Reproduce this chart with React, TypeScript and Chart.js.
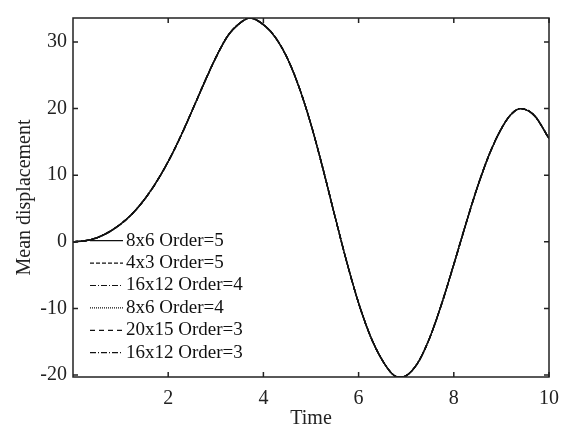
import React, { useEffect, useRef } from 'react';
import { Chart, registerables } from 'chart.js';

Chart.register(...registerables);

const times = [0, 0.25, 0.5, 0.75, 1, 1.25, 1.5, 1.75, 2, 2.25, 2.5, 2.75, 3, 3.25, 3.5, 3.72, 4, 4.25, 4.5, 4.75, 5, 5.25, 5.5, 5.75, 6, 6.25, 6.5, 6.75, 6.87, 7, 7.25, 7.5, 7.75, 8, 8.25, 8.5, 8.75, 9, 9.2, 9.4, 9.7, 10];
const displacement = [0, 0.15, 0.6, 1.45, 2.65, 4.25, 6.35, 8.95, 12.05, 15.65, 19.65, 23.75, 27.65, 30.9, 32.8, 33.6, 32.6, 30.7, 27.6, 23.2, 17.6, 11.0, 3.9, -3.0, -9.2, -14.2, -17.8, -20.1, -20.3, -20.1, -18.1, -14.3, -9.2, -3.4, 2.6, 8.3, 13.2, 17.0, 19.1, 20.0, 18.9, 15.5];

const seriesNames = ['8x6 Order=5', '4x3 Order=5', '16x12 Order=4', '8x6 Order=4', '20x15 Order=3', '16x12 Order=3'];
const seriesDashes: number[][] = [[], [4, 2], [6, 2, 1, 2], [1, 1], [5, 4], [6, 2, 1, 2]];

const xTicks = [2, 4, 6, 8, 10];
const yTicks = [-20, -10, 0, 10, 20, 30];

const FONT = '"Liberation Serif", "Times New Roman", serif';

const framePlugin = {
  id: 'matlabFrame',
  afterDraw(chart: any) {
    const { ctx, chartArea } = chart;
    const { left, right, top, bottom } = chartArea;
    const xs = chart.scales.x;
    const ys = chart.scales.y;
    ctx.save();
    ctx.strokeStyle = '#222';
    ctx.lineWidth = 1.5;
    ctx.setLineDash([]);
    ctx.strokeRect(left, top, right - left, bottom - top);
    const tl = 5;
    ctx.beginPath();
    xTicks.forEach((v) => {
      const px = xs.getPixelForValue(v);
      ctx.moveTo(px, bottom);
      ctx.lineTo(px, bottom - tl);
      ctx.moveTo(px, top);
      ctx.lineTo(px, top + tl);
    });
    yTicks.forEach((v) => {
      const py = ys.getPixelForValue(v);
      ctx.moveTo(left, py);
      ctx.lineTo(left + tl, py);
      ctx.moveTo(right, py);
      ctx.lineTo(right - tl, py);
    });
    ctx.stroke();

    // legend inside axes, lower left
    const x0 = left + 17;
    const lineLen = 33;
    const y0 = bottom - 136.3;
    const dy = 22.4;
    ctx.font = `19px ${FONT}`;
    ctx.textBaseline = 'middle';
    ctx.textAlign = 'left';
    ctx.fillStyle = '#111';
    seriesNames.forEach((name, i) => {
      const y = y0 + i * dy;
      ctx.beginPath();
      ctx.strokeStyle = '#111';
      ctx.lineWidth = 1.2;
      ctx.setLineDash(seriesDashes[i]);
      ctx.moveTo(x0, y);
      ctx.lineTo(x0 + lineLen, y);
      ctx.stroke();
      ctx.setLineDash([]);
      ctx.fillText(name, x0 + lineLen + 3, y);
    });
    ctx.restore();
  },
};

export default function App() {
  const ref = useRef<HTMLCanvasElement | null>(null);
  useEffect(() => {
    if (!ref.current) return;
    const datasets = seriesNames.map((name, i) => ({
      label: name,
      data: times.map((t, k) => ({ x: t, y: displacement[k] })),
      borderColor: '#111',
      borderWidth: 1.4,
      borderDash: seriesDashes[i],
      pointRadius: 0,
      fill: false,
      cubicInterpolationMode: 'monotone' as const,
    }));
    const chart = new Chart(ref.current, {
      type: 'line',
      data: { datasets },
      options: {
        animation: false,
        responsive: true,
        maintainAspectRatio: false,
        layout: { padding: { top: 6, right: 17, left: 0, bottom: 0 } },
        plugins: { legend: { display: false }, tooltip: { enabled: false } },
        scales: {
          x: {
            type: 'linear',
            min: 0,
            max: 10,
            afterBuildTicks: (s: any) => {
              s.ticks = xTicks.map((v) => ({ value: v }));
            },
            afterFit: (s: any) => {
              s.height = 55;
            },
            grid: { display: false, drawTicks: false },
            border: { display: false },
            ticks: { padding: 10, color: '#222', font: { family: FONT, size: 20 }, maxRotation: 0 },
            title: {
              display: true,
              text: 'Time',
              color: '#222',
              font: { family: FONT, size: 20, lineHeight: 1.2 },
              padding: { top: 0, bottom: 1 },
            },
          },
          y: {
            type: 'linear',
            min: -20.3,
            max: 33.6,
            afterBuildTicks: (s: any) => {
              s.ticks = yTicks.map((v) => ({ value: v }));
            },
            afterFit: (s: any) => {
              s.width = 73;
            },
            grid: { display: false, drawTicks: false },
            border: { display: false },
            ticks: { padding: 6, color: '#222', font: { family: FONT, size: 20 } },
            title: {
              display: true,
              text: 'Mean displacement',
              color: '#222',
              font: { family: FONT, size: 20, lineHeight: 1.2 },
              padding: { top: 13, bottom: 0 },
            },
          },
        },
      },
      plugins: [framePlugin],
    });
    return () => chart.destroy();
  }, []);
  return (
    <div style={{ position: 'fixed', left: 0, top: 0, width: 569, height: 432, background: '#fff' }}>
      <canvas ref={ref} />
    </div>
  );
}
